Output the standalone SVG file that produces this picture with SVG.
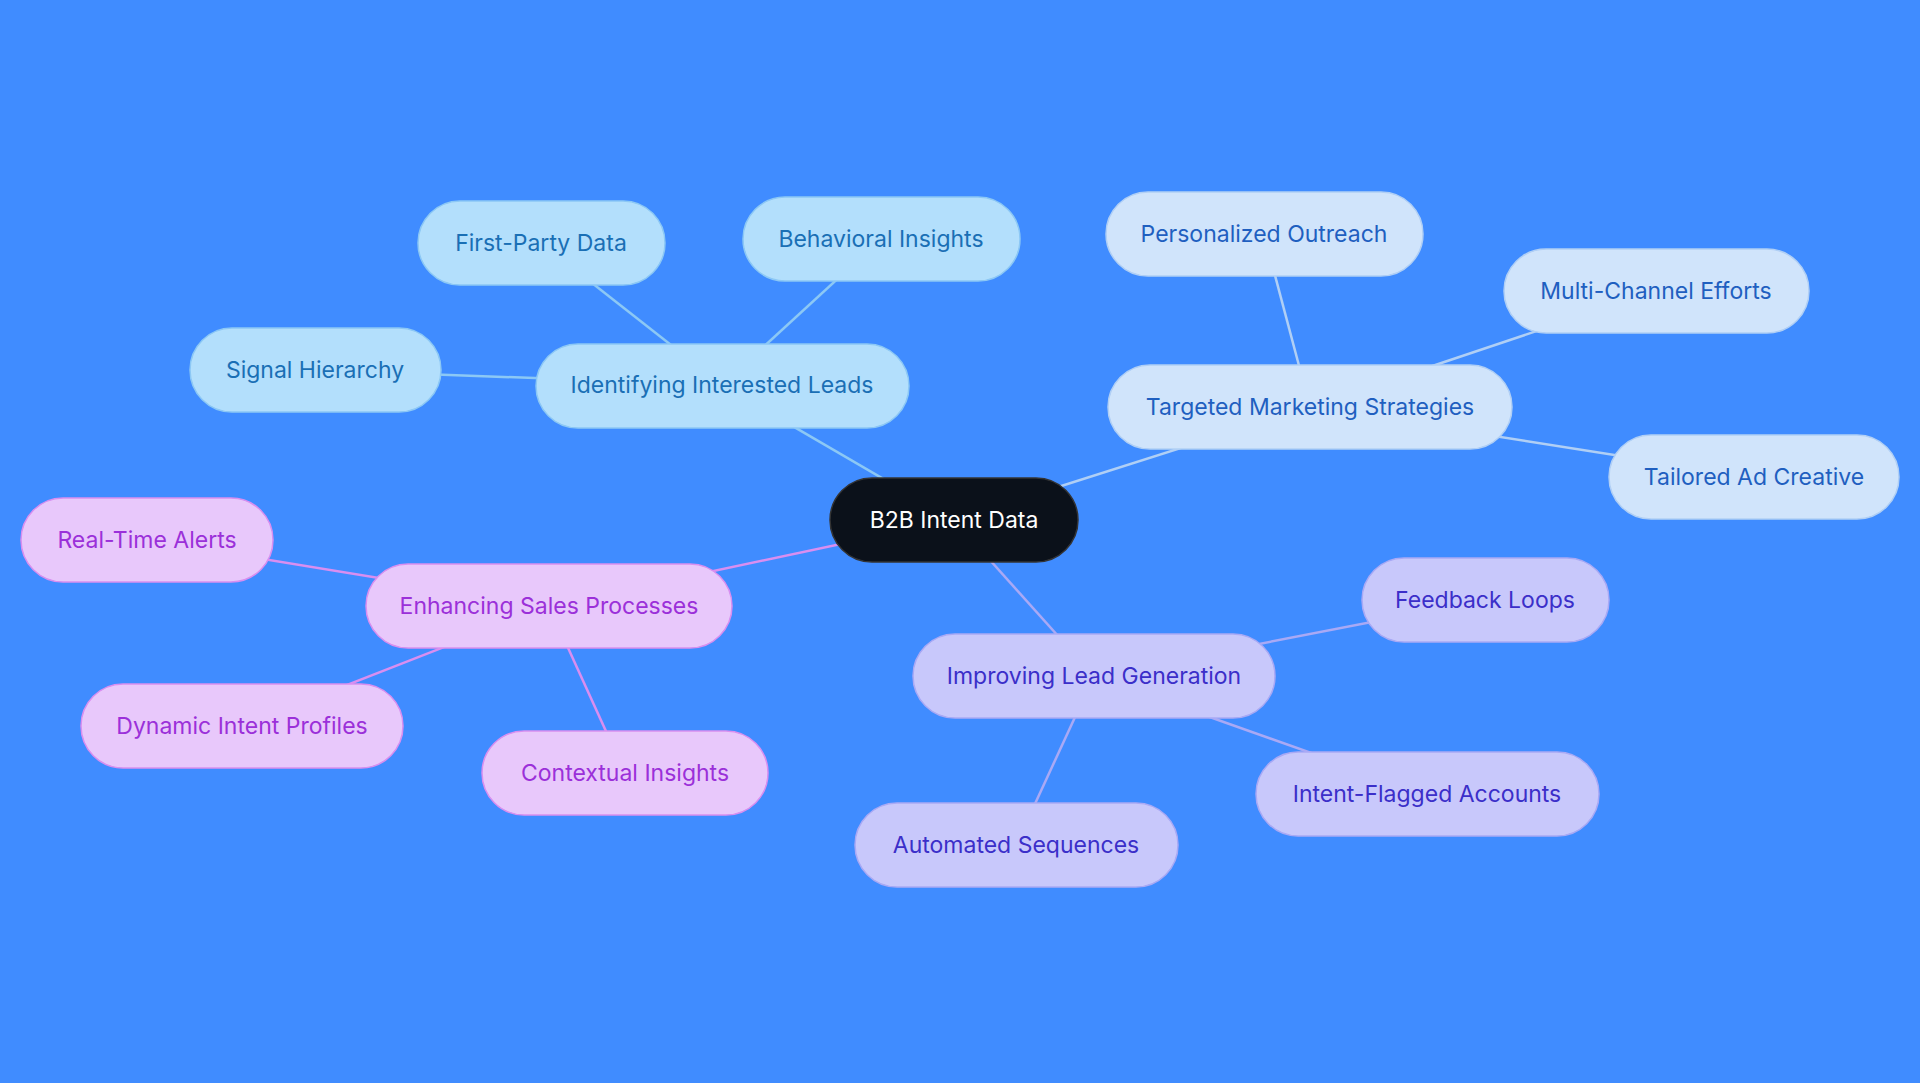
<svg xmlns="http://www.w3.org/2000/svg" width="1920" height="1083" viewBox="0 0 1920 1083">
<style>
text{font-family:Inter,"Noto Sans",sans-serif;font-size:23px;text-anchor:middle;dominant-baseline:central}
.b rect{fill:#b3dffc;stroke:#8cc8f5;stroke-width:1.5}.b text{fill:#1a6fb5}
.t rect{fill:#d0e4fb;stroke:#b0cff5;stroke-width:1.5}.t text{fill:#1f5fc0}
.p rect{fill:#e8c8fb;stroke:#d98ef0;stroke-width:1.5}.p text{fill:#9b30d9}
.l rect{fill:#c8c8fb;stroke:#a9a9f5;stroke-width:1.5}.l text{fill:#3b2fc9}
#edges line{stroke-width:2.5;fill:none}
.eb{stroke:#8cc8f5}.et{stroke:#b0cff5}.ep{stroke:#d98ef0}.el{stroke:#a9a9f5}
</style>
<rect width="1920" height="1083" fill="#408cff"/>
<g id="edges">
<line class="eb" x1="954" y1="520" x2="722" y2="385"/>
<line class="eb" x1="722" y1="385" x2="541" y2="243"/>
<line class="eb" x1="722" y1="385" x2="881" y2="239"/>
<line class="eb" x1="722" y1="385" x2="315" y2="370"/>
<line class="et" x1="954" y1="520" x2="1310" y2="407"/>
<line class="et" x1="1310" y1="407" x2="1264" y2="234"/>
<line class="et" x1="1310" y1="407" x2="1656" y2="291"/>
<line class="et" x1="1310" y1="407" x2="1754" y2="477"/>
<line class="ep" x1="954" y1="520" x2="549" y2="606"/>
<line class="ep" x1="549" y1="606" x2="147" y2="540"/>
<line class="ep" x1="549" y1="606" x2="242" y2="726"/>
<line class="ep" x1="549" y1="606" x2="625" y2="773"/>
<line class="el" x1="954" y1="520" x2="1094" y2="676"/>
<line class="el" x1="1094" y1="676" x2="1485" y2="600"/>
<line class="el" x1="1094" y1="676" x2="1427" y2="794"/>
<line class="el" x1="1094" y1="676" x2="1016" y2="845"/>
</g>
<g id="center"><rect x="830" y="478" width="248" height="84" rx="42" fill="#0b111a" stroke="#333" stroke-width="1.5"/><text x="954" y="520" fill="#fff">B2B Intent Data</text></g>
<g id="n-il" class="b"><rect x="536" y="344" width="373" height="84" rx="42"/><text x="722" y="385">Identifying Interested Leads</text></g>
<g id="n-fp" class="b"><rect x="418" y="201" width="247" height="84" rx="42"/><text x="541" y="243">First-Party Data</text></g>
<g id="n-bi" class="b"><rect x="743" y="197" width="277" height="84" rx="42"/><text x="881" y="239">Behavioral Insights</text></g>
<g id="n-sh" class="b"><rect x="190" y="328" width="251" height="84" rx="42"/><text x="315" y="370">Signal Hierarchy</text></g>
<g id="n-tm" class="t"><rect x="1108" y="365" width="404" height="84" rx="42"/><text x="1310" y="407">Targeted Marketing Strategies</text></g>
<g id="n-po" class="t"><rect x="1106" y="192" width="317" height="84" rx="42"/><text x="1264" y="234">Personalized Outreach</text></g>
<g id="n-mc" class="t"><rect x="1504" y="249" width="305" height="84" rx="42"/><text x="1656" y="291">Multi-Channel Efforts</text></g>
<g id="n-ta" class="t"><rect x="1609" y="435" width="290" height="84" rx="42"/><text x="1754" y="477">Tailored Ad Creative</text></g>
<g id="n-es" class="p"><rect x="366" y="564" width="366" height="84" rx="42"/><text x="549" y="606">Enhancing Sales Processes</text></g>
<g id="n-rt" class="p"><rect x="21" y="498" width="252" height="84" rx="42"/><text x="147" y="540">Real-Time Alerts</text></g>
<g id="n-di" class="p"><rect x="81" y="684" width="322" height="84" rx="42"/><text x="242" y="726">Dynamic Intent Profiles</text></g>
<g id="n-ci" class="p"><rect x="482" y="731" width="286" height="84" rx="42"/><text x="625" y="773">Contextual Insights</text></g>
<g id="n-lg" class="l"><rect x="913" y="634" width="362" height="84" rx="42"/><text x="1094" y="676">Improving Lead Generation</text></g>
<g id="n-fl" class="l"><rect x="1362" y="558" width="247" height="84" rx="42"/><text x="1485" y="600">Feedback Loops</text></g>
<g id="n-if" class="l"><rect x="1256" y="752" width="343" height="84" rx="42"/><text x="1427" y="794">Intent-Flagged Accounts</text></g>
<g id="n-as" class="l"><rect x="855" y="803" width="323" height="84" rx="42"/><text x="1016" y="845">Automated Sequences</text></g>
</svg>
